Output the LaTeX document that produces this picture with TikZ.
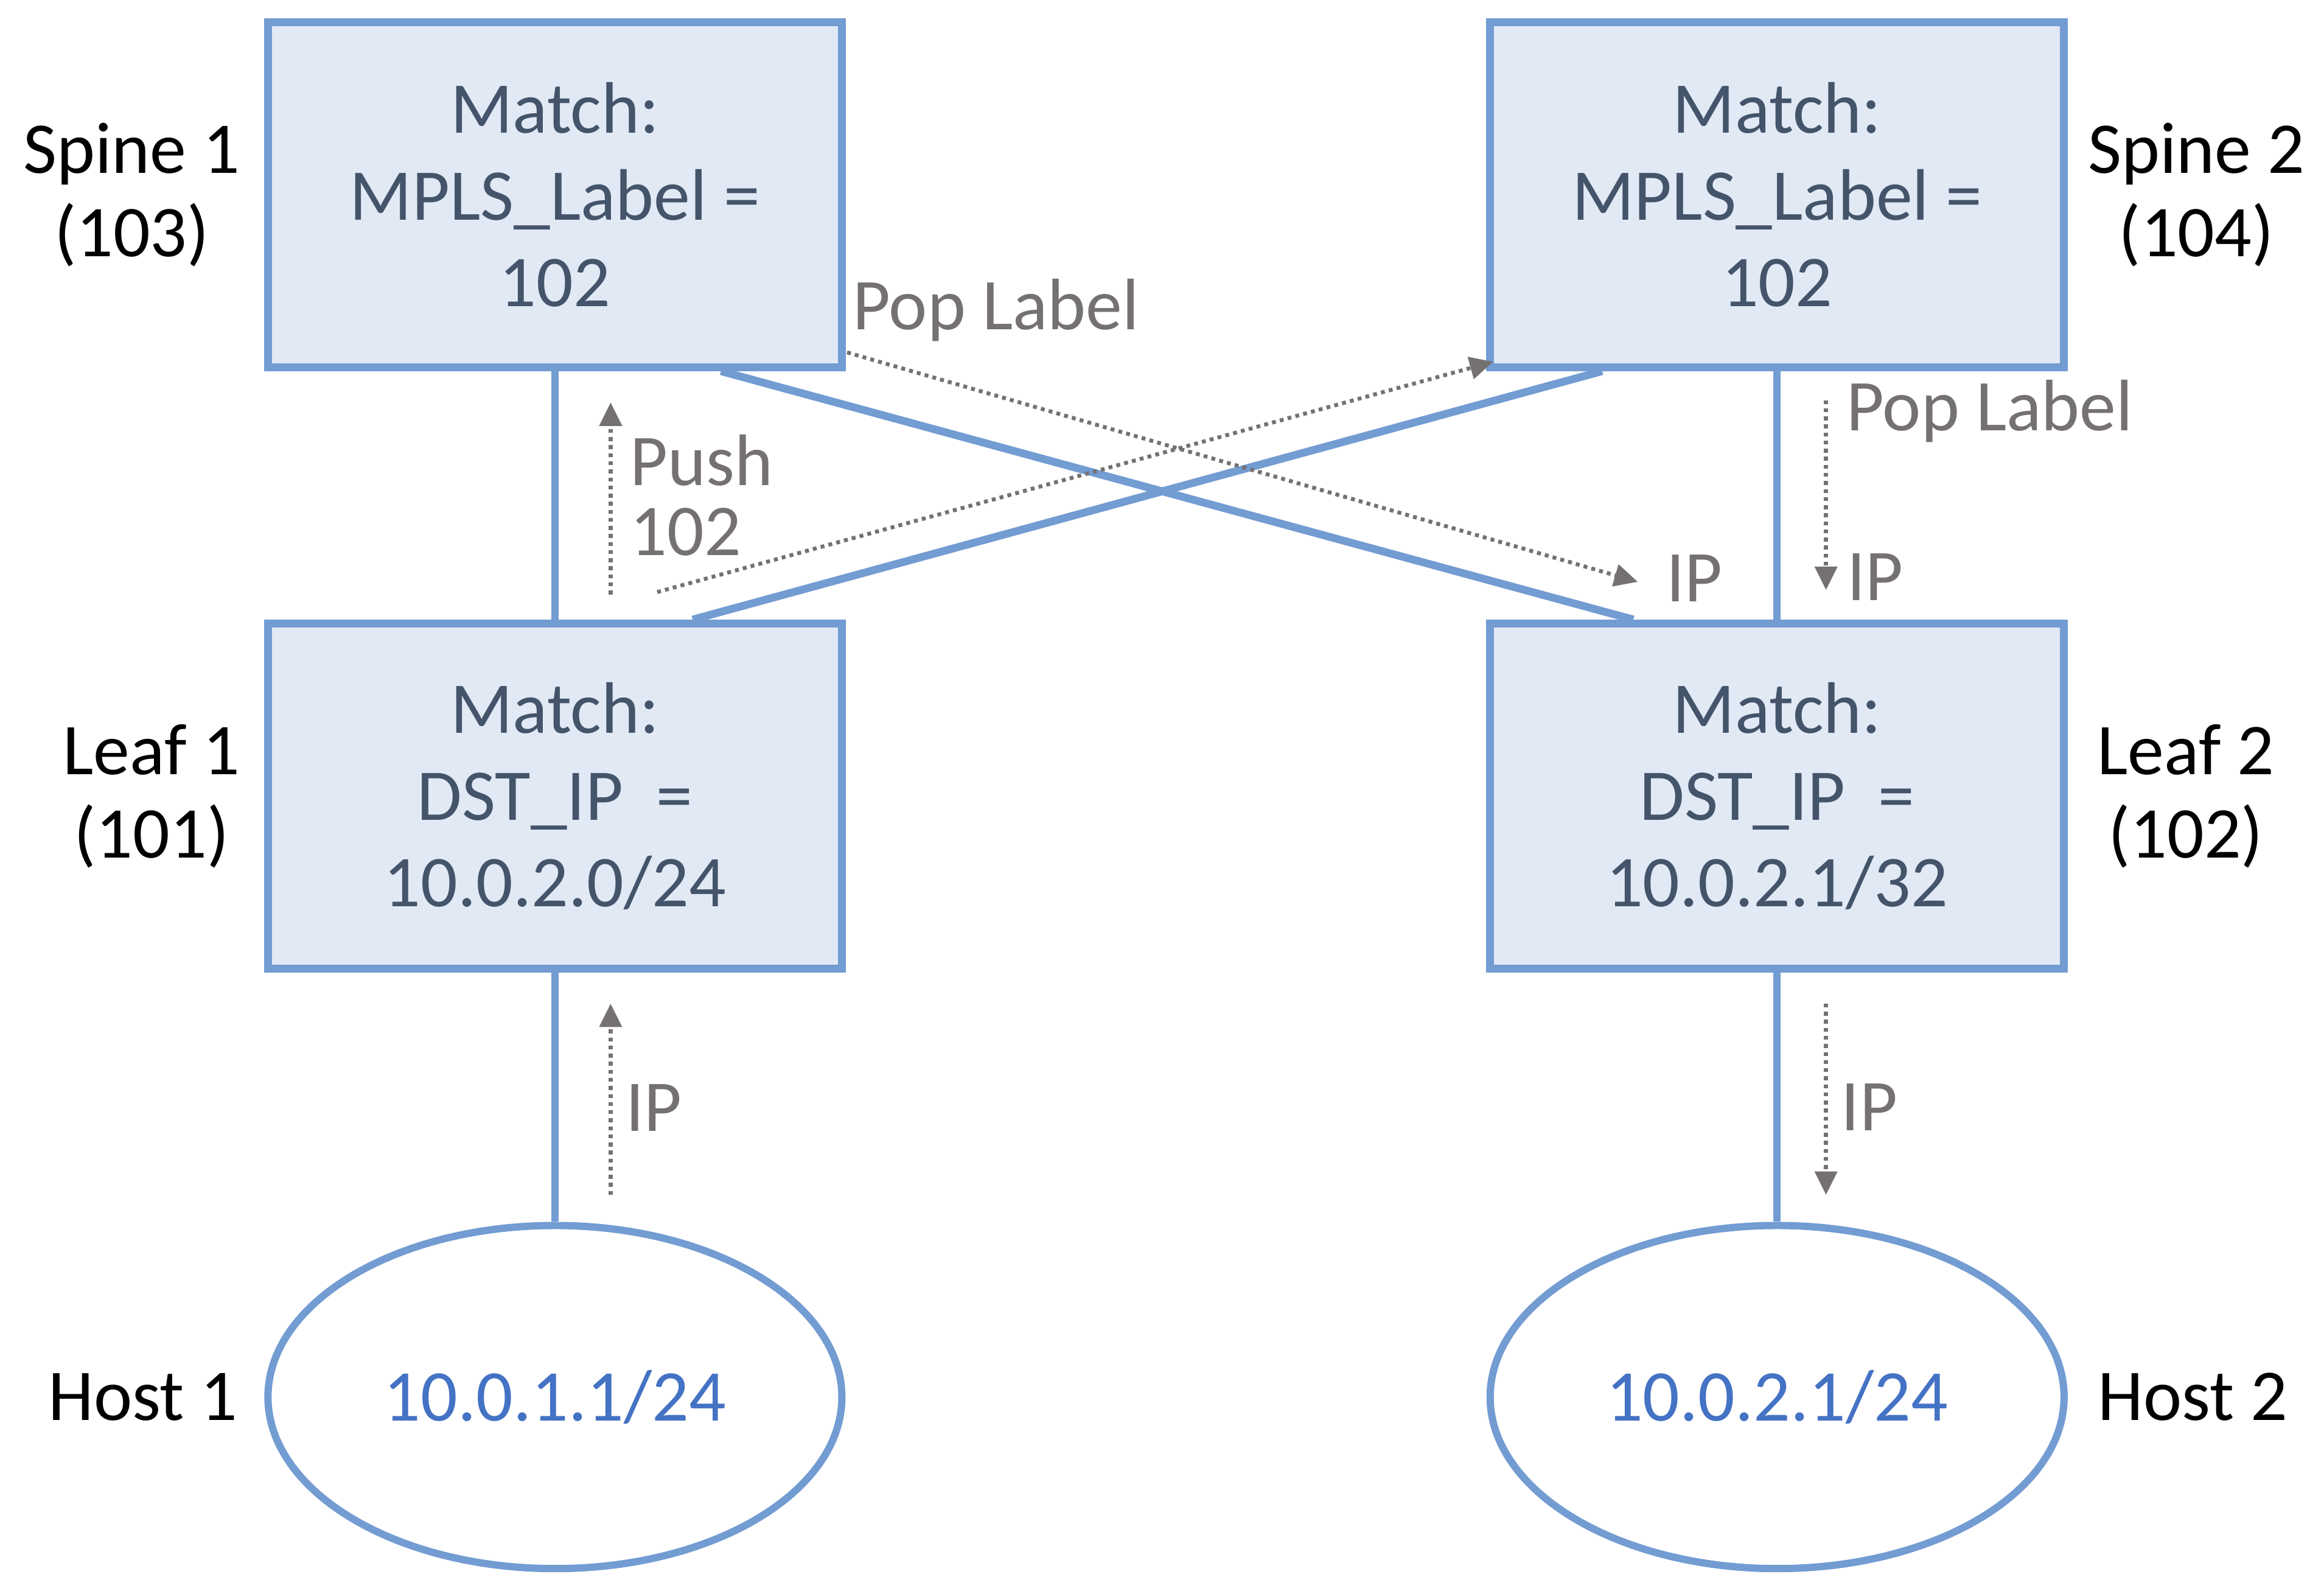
\documentclass[tikz,border=0pt]{standalone}
\usepackage{fontspec}
\setmainfont{Carlito}
\usepackage{xcolor}
\usetikzlibrary{shapes.geometric,arrows.meta,positioning}

\definecolor{linkblue}{RGB}{114,156,210}
\definecolor{boxfill}{RGB}{225,233,245}
\definecolor{boxtext}{RGB}{68,84,106}
\definecolor{flowgrey}{RGB}{118,113,113}
\definecolor{hostblue}{RGB}{68,114,196}

\begin{document}
\begin{tikzpicture}[
    x=0.02cm, y=-0.02cm,
    switch_box/.style={rectangle, draw=linkblue, fill=boxfill, line width=3pt, minimum width=7.746cm, minimum height=4.658cm, inner sep=0pt, align=center, text=boxtext, font=\fontsize{28}{33.2}\selectfont},
    host_node/.style={ellipse, draw=linkblue, line width=2.8pt, minimum width=7.746cm, minimum height=4.63cm, inner sep=0pt, text=hostblue, font=\fontsize{28}{33.2}\selectfont},
    side_label/.style={inner sep=0pt, align=center, font=\fontsize{28}{32}\selectfont},
    flow_label/.style={inner sep=0pt, anchor=base west, align=left, text=flowgrey, font=\fontsize{28}{26.8}\selectfont},
    straight_link/.style={draw=linkblue, line width=2.8pt},
    cross_link/.style={draw=linkblue, line width=3pt},
    flow_edge/.style={-{Triangle[length=9pt, width=8.5pt]}, flowgrey, line width=1.5pt, dash pattern=on 1.5pt off 1.6pt}
]
    \useasboundingbox (0,0) rectangle (1568,1073);

    % --- Nodes ---
    % Spines
    \node[switch_box] (spine1) at (374.4,131.3) {Match:\\MPLS\_Label =\\102};
    \node[switch_box] (spine2) at (1199,131.3) {Match:\\MPLS\_Label =\\102};

    % Leaves
    \node[switch_box] (leaf1) at (374.4,537) {Match:\\DST\_IP\ \ =\\10.0.2.0/24};
    \node[switch_box] (leaf2) at (1199,537) {Match:\\DST\_IP\ \ =\\10.0.2.1/32};

    % Hosts
    \node[host_node] (host1) at (374.4,942.4) {10.0.1.1/24};
    \node[host_node] (host2) at (1199,942.4) {10.0.2.1/24};

    % Side names
    \node[side_label, left=9pt of spine1] (spine1_name) {Spine 1\\(103)};
    \node[side_label, right=7.5pt of spine2] (spine2_name) {Spine 2\\(104)};
    \node[side_label, left=9pt of leaf1] (leaf1_name) {Leaf 1\\(101)};
    \node[side_label, right=11pt of leaf2] (leaf2_name) {Leaf 2\\(102)};
    \node[side_label, left=10pt of host1] (host1_name) {Host 1};
    \node[side_label, right=11.5pt of host2] (host2_name) {Host 2};

    % --- Links ---
    \draw[straight_link] (spine1.south) -- (leaf1.north);
    \draw[straight_link] (leaf1.south) -- (host1.north);
    \draw[straight_link] (spine2.south) -- (leaf2.north);
    \draw[straight_link] (leaf2.south) -- (host2.north);
    \draw[cross_link] ([xshift=2.24cm]spine1.south) -- ([xshift=-1.94cm]leaf2.north);
    \draw[cross_link] ([xshift=-2.36cm]spine2.south) -- ([xshift=1.86cm]leaf1.north);

    % --- Packet flow (grey dotted) ---
    \coordinate (ip_up_from) at (412,806);
    \coordinate (ip_up_to) at (412,677);
    \coordinate (push_from) at (412,401);
    \coordinate (push_to) at (412,271.5);
    \coordinate (up_from) at (443.4,399.4);
    \coordinate (up_to) at (1007.5,244);
    \coordinate (down_from) at (571.5,237.7);
    \coordinate (down_to) at (1105,392.5);
    \coordinate (pop_from) at (1232,270);
    \coordinate (pop_to) at (1232,398);
    \coordinate (ip_down_from) at (1232,677);
    \coordinate (ip_down_to) at (1232,806);

    \draw[flow_edge] (ip_up_from) -- (ip_up_to);
    \draw[flow_edge] (push_from) -- (push_to);
    \draw[flow_edge] (up_from) -- (up_to);
    \draw[flow_edge] (down_from) -- (down_to);
    \draw[flow_edge] (pop_from) -- (pop_to);
    \draw[flow_edge] (ip_down_from) -- (ip_down_to);

    \node[flow_label, anchor=west] (push_lbl) at (425,334) {Push\\102};
    \node[flow_label] (pop1_lbl) at (575,222.5) {Pop Label};
    \node[flow_label] (pop2_lbl) at (1245.5,290.4) {Pop Label};
    \node[flow_label] (ip1_lbl) at (1124,406) {IP};
    \node[flow_label] (ip2_lbl) at (1246,405) {IP};
    \node[flow_label] (ip3_lbl) at (422,763) {IP};
    \node[flow_label] (ip4_lbl) at (1242,762.5) {IP};

\end{tikzpicture}
\end{document}
